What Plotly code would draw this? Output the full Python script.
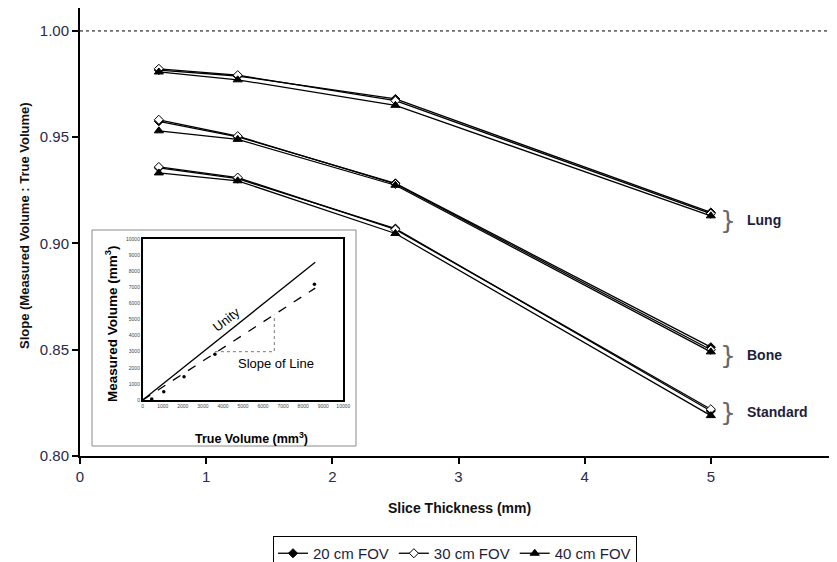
import plotly.graph_objects as go

# ---------------- data ----------------
slice_mm = [0.625, 1.25, 2.5, 5.0]

lung_20 = [0.9816, 0.9788, 0.9680, 0.9146]
lung_30 = [0.9822, 0.9792, 0.9672, 0.9140]
lung_40 = [0.9807, 0.9770, 0.9650, 0.9130]

bone_20 = [0.9575, 0.9502, 0.9283, 0.8512]
bone_30 = [0.9582, 0.9505, 0.9280, 0.8500]
bone_40 = [0.9530, 0.9490, 0.9274, 0.8490]

std_20 = [0.9356, 0.9305, 0.9070, 0.8212]
std_30 = [0.9360, 0.9310, 0.9066, 0.8220]
std_40 = [0.9332, 0.9295, 0.9047, 0.8190]

series_names = ["20 cm FOV", "30 cm FOV", "40 cm FOV"]
group_labels = ["Lung", "Bone", "Standard"]

x_ticks = [0, 1, 2, 3, 4, 5, 6]
y_ticks = [0.80, 0.85, 0.90, 0.95, 1.00]
unity_value = 1.0

# inset data
inset_unity_x = [0, 8600]
inset_unity_y = [0, 8550]
inset_fit_x = [0, 8600]
inset_fit_y = [0, 6950]
inset_pts_x = [450, 1050, 2060, 3600, 8560]
inset_pts_y = [60, 520, 1450, 2840, 7190]
inset_tri_x = [3600, 6560, 6560]
inset_tri_y = [3000, 3000, 5300]
inset_ticks = list(range(0, 10001, 1000))
inset_ticktext = [str(v) for v in inset_ticks]

# ---------------- layout helpers ----------------
W, H = 837, 562
OFF = 8  # page body margin: window coords = figure coords + 8
# plot area in window coordinates: left 80, top 8, right 837, bottom 456
L = 80 - OFF
T = 8 - OFF
R = W - (837 - OFF)
B = H - (456 - OFF)
PW, PH = W - L - R, H - T - B


def px(xw):
    return (xw - OFF - L) / PW


def py(yw):
    return (H - B - (yw - OFF)) / PH


TICKCOL = "#2a2a4a"
NARROW = "Liberation Sans Narrow, Arial Narrow, Liberation Sans, Arial, sans-serif"
ARIAL = "Liberation Sans, Arial, sans-serif"

fig = go.Figure()

styles = [
    dict(symbol="diamond", size=7, color="black", line=dict(color="black", width=1)),
    dict(symbol="diamond", size=7, color="white", line=dict(color="black", width=1)),
    dict(symbol="triangle-up", size=8, color="black", line=dict(color="black", width=1)),
]

groups = [
    [lung_20, lung_30, lung_40],
    [bone_20, bone_30, bone_40],
    [std_20, std_30, std_40],
]

for si, name in enumerate(series_names):
    for gi, g in enumerate(groups):
        fig.add_trace(go.Scatter(
            x=slice_mm, y=g[si], mode="lines+markers", name=name,
            legendgroup=name, showlegend=(gi == 0),
            line=dict(color="black", width=1.3),
            marker=styles[si], xaxis="x", yaxis="y",
        ))

# inset traces
fig.add_trace(go.Scatter(x=inset_tri_x, y=inset_tri_y, mode="lines",
                         line=dict(color="#777", width=1, dash="dot"),
                         showlegend=False, xaxis="x2", yaxis="y2"))
fig.add_trace(go.Scatter(x=inset_unity_x, y=inset_unity_y, mode="lines",
                         line=dict(color="black", width=1.3),
                         showlegend=False, xaxis="x2", yaxis="y2"))
fig.add_trace(go.Scatter(x=inset_fit_x, y=inset_fit_y, mode="lines",
                         line=dict(color="black", width=1.3, dash="dash"),
                         showlegend=False, xaxis="x2", yaxis="y2"))
fig.add_trace(go.Scatter(x=inset_pts_x, y=inset_pts_y, mode="markers",
                         marker=dict(color="black", size=3.5),
                         showlegend=False, xaxis="x2", yaxis="y2"))

shapes = [
    # inset frame
    dict(type="rect", xref="paper", yref="paper",
         x0=px(92), x1=px(356), y0=py(446), y1=py(230),
         line=dict(color="#8a8a8a", width=1), fillcolor="white", layer="below"),
    # unity reference line
    dict(type="line", xref="paper", yref="y", x0=0, x1=1,
         y0=unity_value, y1=unity_value,
         line=dict(color="black", width=1, dash="dot")),
]


def ann(xw, yw, text, size, color="black", angle=0, family=ARIAL,
        xanchor="center"):
    return dict(x=px(xw), y=py(yw), xref="paper", yref="paper", text=text,
                showarrow=False, textangle=angle, xanchor=xanchor,
                yanchor="middle", font=dict(family=family, size=size, color=color))


annotations = []
label_pos = [220, 355, 412]
for lab, yy in zip(group_labels, label_pos):
    annotations.append(ann(728, yy, "}", 25, "#666",
                           family="DejaVu Sans, sans-serif"))
    annotations.append(ann(745, yy, "<b>%s</b>" % lab, 14, "#1e1e3a",
                           xanchor="left"))

annotations += [
    ann(226, 319, "Unity", 13, angle=-38),
    ann(276, 363, "Slope of Line", 13),
    ann(251, 438, "<b>True Volume (mm<sup>3</sup>)</b>", 12.5),
    ann(111, 324, "<b>Measured Volume (mm<sup>3</sup>)</b>", 13.5, angle=-90),
    ann(24, 226, "<b>Slope (Measured Volume : True Volume)</b>", 13, "#111",
        angle=-90),
    ann(459, 508, "<b>Slice Thickness (mm)</b>", 14, "#111", family=NARROW),
]

fig.update_layout(
    width=W, height=H,
    margin=dict(l=L, r=R, t=T, b=B, pad=0, autoexpand=False),
    paper_bgcolor="white", plot_bgcolor="rgba(0,0,0,0)",
    font=dict(family=ARIAL, color="black"),
    xaxis=dict(range=[0, 6], tickvals=x_ticks, ticks="outside", ticklen=6,
               tickwidth=1.5, tickcolor="black", showgrid=False, zeroline=False,
               showline=True, linecolor="black", linewidth=2, mirror=True,
               automargin=False,
               tickfont=dict(family=NARROW, size=15, color=TICKCOL)),
    yaxis=dict(range=[0.80, 1.0108], tickvals=y_ticks, tickformat=".2f",
               ticks="outside", ticklen=6, tickwidth=1.5, tickcolor="black",
               showgrid=False, zeroline=False, showline=True, linecolor="black",
               linewidth=2, mirror=True, automargin=False,
               tickfont=dict(family=ARIAL, size=15, color=TICKCOL)),
    xaxis2=dict(domain=[px(142.7), px(343.3)], anchor="y2", range=[0, 10000],
                tickvals=inset_ticks, ticktext=inset_ticktext, ticks="",
                showgrid=False, zeroline=False, automargin=False,
                showline=True, linecolor="black", linewidth=1.5, mirror=True,
                tickfont=dict(size=5, color="#444")),
    yaxis2=dict(domain=[py(400), py(239)], anchor="x2", range=[0, 10000],
                tickvals=inset_ticks, ticktext=inset_ticktext, ticks="",
                showgrid=False, zeroline=False, automargin=False,
                showline=True, linecolor="black", linewidth=1.5, mirror=True,
                tickfont=dict(size=5, color="#444")),
    legend=dict(orientation="h", x=px(455), y=py(536), xanchor="center",
                yanchor="top", bordercolor="black", borderwidth=1,
                bgcolor="white", font=dict(family=ARIAL, size=15, color="#1e1e3a"),
                itemwidth=30, tracegroupgap=0),
    shapes=shapes, annotations=annotations,
)

fig.write_html("out.html")
